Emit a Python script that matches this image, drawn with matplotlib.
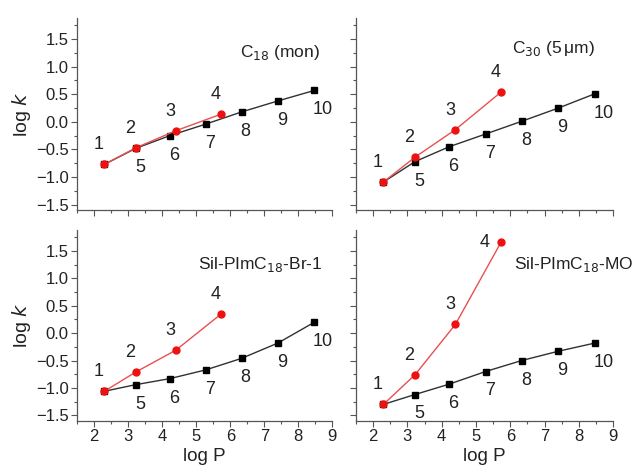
import matplotlib.pyplot as plt
from matplotlib.ticker import MultipleLocator

# log P of solutes 1-4 (red) and 1,5-10 (black)
red_ids = ["1", "2", "3", "4"]
red_logp = [2.3, 3.22, 4.4, 5.73]
black_ids = ["1", "5", "6", "7", "8", "9", "10"]
black_logp = [2.3, 3.22, 4.22, 5.28, 6.33, 7.4, 8.47]

titles = ["C$_{18}$ (mon)", "C$_{30}$ (5$\\,\\mathregular{\\mu}$m)",
          "Sil-PImC$_{18}$-Br-1", "Sil-PImC$_{18}$-MO"]

# log k values, one list per panel
red_c18 = [-0.77, -0.47, -0.16, 0.14]
black_c18 = [-0.77, -0.48, -0.25, -0.04, 0.18, 0.38, 0.57]
red_c30 = [-1.09, -0.64, -0.14, 0.54]
black_c30 = [-1.09, -0.72, -0.45, -0.22, 0.01, 0.25, 0.51]
red_br = [-1.06, -0.71, -0.31, 0.35]
black_br = [-1.06, -0.94, -0.83, -0.67, -0.46, -0.18, 0.2]
red_mo = [-1.3, -0.76, 0.16, 1.66]
black_mo = [-1.3, -1.12, -0.93, -0.7, -0.5, -0.33, -0.18]

panels = [(red_c18, black_c18), (red_c30, black_c30),
          (red_br, black_br), (red_mo, black_mo)]

plt.rcParams['font.family'] = ['Liberation Sans', 'DejaVu Sans']

fig = plt.figure(figsize=(6.38, 4.65), dpi=100)
boxes = [[0.121, 0.548, 0.40, 0.413], [0.558, 0.548, 0.403, 0.413],
         [0.121, 0.095, 0.40, 0.41], [0.558, 0.095, 0.403, 0.41]]
title_pos = [(0.95, 0.82), (0.93, 0.84), (0.96, 0.82), (1.08, 0.82)]

for i, (red, black) in enumerate(panels):
    ax = fig.add_axes(boxes[i])
    ax.plot(black_logp, black, '-', color='#303030', lw=1.0,
            marker='s', ms=4.5, mfc='black', mec='black', zorder=2)
    ax.plot(red_logp, red, '-', color='#e85050', lw=1.0,
            marker='o', ms=5, mfc='#ee1111', mec='#ee1111', zorder=3)
    for j, lab in enumerate(black_ids[1:]):
        dx = 6 if lab == "10" else 3
        ax.annotate(lab, (black_logp[j + 1], black[j + 1]), xytext=(dx, -14),
                    textcoords='offset points', ha='center', va='center',
                    fontsize=13, color='#222222')
    for j, lab in enumerate(red_ids):
        off = (-4, 14)
        if i == 3 and lab == "4":
            off = (-12, 0)
        ax.annotate(lab, (red_logp[j], red[j]), xytext=off,
                    textcoords='offset points', ha='center', va='center',
                    fontsize=13, color='#222222')
    ax.text(title_pos[i][0], title_pos[i][1], titles[i], transform=ax.transAxes,
            ha='right', va='center', fontsize=12.5, color='#222222', clip_on=False)

    ax.set_xlim(1.5, 9)
    ax.set_ylim(-1.6, 1.88)
    ax.xaxis.set_major_locator(MultipleLocator(1))
    ax.xaxis.set_minor_locator(MultipleLocator(0.5))
    ax.yaxis.set_major_locator(MultipleLocator(0.5))
    ax.yaxis.set_minor_locator(MultipleLocator(0.25))
    ax.set_yticks([-1.5, -1.0, -0.5, 0.0, 0.5, 1.0, 1.5])
    ax.tick_params(which='major', direction='out', length=4, width=0.8,
                   color='#555555', labelsize=12, labelcolor='#222222', pad=2)
    ax.tick_params(which='minor', direction='out', length=2.5, width=0.8,
                   color='#555555')
    for s in ['top', 'right']:
        ax.spines[s].set_visible(False)
    for s in ['left', 'bottom']:
        ax.spines[s].set_color('#555555')
        ax.spines[s].set_linewidth(0.9)

    if i < 2:
        ax.tick_params(labelbottom=False)
    else:
        ax.set_xticks(range(2, 10))
        ax.set_xlabel('log P', fontsize=13.5, color='#222222', labelpad=3)
    if i % 2 == 1:
        ax.tick_params(labelleft=False)
    else:
        ax.set_ylabel('log $\\it{k}$', fontsize=14, color='#222222', labelpad=2)

fig.savefig('out.png', dpi=100)
